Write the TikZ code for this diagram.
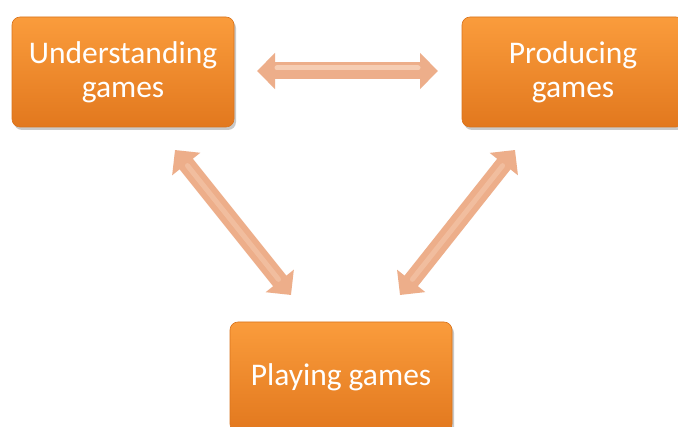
\documentclass[tikz,border=0pt]{standalone}
\usepackage{fontspec}
\setmainfont{Carlito}
\usetikzlibrary{arrows.meta,shadows,calc}
\definecolor{boxtop}{HTML}{FA9C3C}
\definecolor{boxbot}{HTML}{E2781E}
\definecolor{boxedge}{HTML}{D9731C}
\definecolor{arrowcol}{HTML}{EDAE8A}
\definecolor{arrowhi}{HTML}{F6CDB3}
\tikzset{
  gamebox/.style={rectangle, rounded corners=8pt, minimum width=222pt, minimum height=110pt,
    top color=boxtop, bottom color=boxbot, draw=boxedge, line width=0.6pt,
    text=white, align=center, font=\fontsize{31.5}{34}\selectfont,
    drop shadow={shadow xshift=2pt, shadow yshift=-3pt, opacity=0.35, fill=black!60}},
  bigarrow/.style={draw=arrowcol, line width=17pt,
    {Triangle[width=35pt,length=18pt]}-{Triangle[width=35pt,length=18pt]}},
  arrowshine/.style={draw=arrowhi, line width=5pt, line cap=round, shorten <=20pt, shorten >=20pt},
}
\begin{document}
\begin{tikzpicture}[x=1pt,y=-1pt]
\useasboundingbox (0,0) rectangle (678,427);
\fill[white] (0,0) rectangle (678,427);
\node[gamebox] (und) at (123,72) {Understanding\\games};
\node[gamebox] (pro) at (573,72) {Producing\\games};
\node[gamebox] (pla) at (341,377) {Playing games};
\coordinate (h1) at (257,71);
\coordinate (h2) at (438,71);
\coordinate (l1) at (175,150);
\coordinate (l2) at (291,295);
\coordinate (r1) at (515,150);
\coordinate (r2) at (400,295);
\draw[bigarrow] (h1) -- (h2);
\draw[arrowshine] ($(h1)+(0,-3)$) -- ($(h2)+(0,-3)$);
\draw[bigarrow] (l1) -- (l2);
\draw[arrowshine, draw opacity=0.5] (l1) -- (l2);
\draw[bigarrow] (r1) -- (r2);
\draw[arrowshine, draw opacity=0.5] (r1) -- (r2);
\end{tikzpicture}
\end{document}
